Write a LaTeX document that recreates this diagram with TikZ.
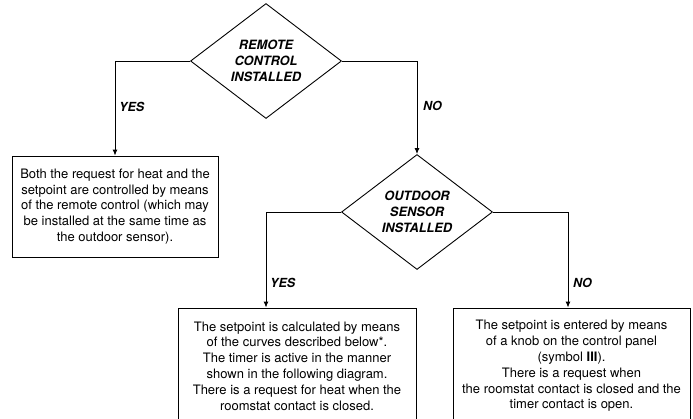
\documentclass[tikz,border=0pt]{standalone}
\usepackage{fontspec}
\setmainfont{TeX Gyre Heros}
\usetikzlibrary{shapes.geometric,arrows.meta}
\begin{document}
\begin{tikzpicture}[x=1pt,y=-1pt,
  dec/.style={diamond,draw=black,line width=0.9pt,inner sep=0pt,minimum width=151pt,minimum height=115pt,
    font=\fontsize{12.8}{16}\selectfont\bfseries\itshape,align=center},
  info/.style={draw=black,line width=0.9pt,font=\fontsize{13}{15.8}\selectfont,align=center,inner sep=0pt},
  lbl/.style={font=\fontsize{12.5}{13}\selectfont\bfseries\itshape,anchor=west,inner sep=0pt},
  conn/.style={line width=0.9pt,-{Latex[length=6pt,width=5pt]}}]
\useasboundingbox (0,0) rectangle (693,418);
\begin{scope}
\clip (0,0) rectangle (693,418);
\node[dec] (d1) at (266,61) {REMOTE\\CONTROL\\INSTALLED};
\node[dec] (d2) at (417,212) {OUTDOOR\\SENSOR\\INSTALLED};
\node[info,minimum width=206pt,minimum height=101pt] (b1) at (115,206.5) {Both the request for heat and the\\setpoint are controlled by means\\of the remote control (which may\\be installed at the same time as\\the outdoor sensor).};
\node[info,minimum width=238pt,minimum height=116pt] (b2) at (297,366) {The setpoint is calculated by means\\of the curves described below*.\\The timer is active in the manner\\shown in the following diagram.\\There is a request for heat when the\\roomstat contact is closed.};
\node[info,minimum width=237pt,minimum height=116pt] (b3) at (571.5,366) {The setpoint is entered by means\\of a knob on the control panel\\(symbol \textbf{III}).\\There is a request when\\the roomstat contact is closed and the\\timer contact is open.};
\coordinate (c1) at (115,61);
\coordinate (c2) at (417,61);
\coordinate (c3) at (266,212);
\coordinate (c4) at (568,212);
\draw[conn] (d1.west) -- (c1) -- (b1.north -| c1);
\draw[conn] (d1.east) -- (c2) -- (d2.north);
\draw[conn] (d2.west) -- (c3) -- (b2.north -| c3);
\draw[conn] (d2.east) -- (c4) -- (b3.north -| c4);
\node[lbl] (y1) at (119,107) {YES};
\node[lbl] (n1) at (423,106) {NO};
\node[lbl] (y2) at (270,283) {YES};
\node[lbl] (n2) at (573,283) {NO};
\end{scope}
\end{tikzpicture}
\end{document}
